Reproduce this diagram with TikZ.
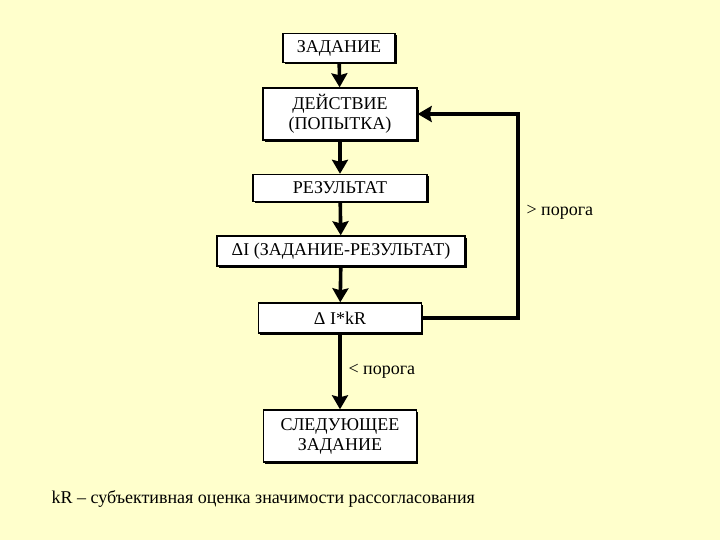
\documentclass[tikz,border=0pt]{standalone}
\usepackage{fontspec}
\setmainfont{Liberation Serif}
\usetikzlibrary{arrows.meta,shadows}
\definecolor{paper}{RGB}{255,255,204}

\begin{document}
\begin{tikzpicture}[x=1pt, y=-1pt,
    stepbox/.style={draw=black, fill=white, line width=1.4pt, align=center,
      font=\fontsize{18}{20}\selectfont, inner sep=2pt,
      drop shadow={shadow xshift=1.6pt, shadow yshift=-1.6pt, opacity=1, fill=black}},
    flow/.style={line width=3.6pt, -{Stealth[width=16pt, length=14pt, inset=2pt]}},
    note/.style={font=\fontsize{18}{20}\selectfont}]
  % Background
  \fill[paper] (0,0) rectangle (720,540);
  \useasboundingbox (0,0) rectangle (720,540);

  % Boxes
  \node[stepbox, minimum width=112pt, minimum height=29pt] (task) at (339,48) {ЗАДАНИЕ};
  \node[stepbox, minimum width=154pt, minimum height=52pt] (act) at (340,114) {ДЕЙСТВИЕ\\(ПОПЫТКА)};
  \node[stepbox, minimum width=174pt, minimum height=27pt] (res) at (340,188) {РЕЗУЛЬТАТ};
  \node[stepbox, minimum width=248pt, minimum height=30pt] (diff) at (341,251) {ΔI (ЗАДАНИЕ-РЕЗУЛЬТАТ)};
  \node[stepbox, minimum width=163pt, minimum height=30pt] (gain) at (340,318) {Δ I*kR};
  \node[stepbox, minimum width=153pt, minimum height=52pt] (next) at (340,436) {СЛЕДУЮЩЕЕ\\ЗАДАНИЕ};

  % Arrows
  \draw[flow] (task) -- (act);
  \draw[flow] (act) -- (res);
  \draw[flow] (res) -- (diff);
  \draw[flow] (diff) -- (gain);
  \draw[flow] (gain) -- (next);
  \coordinate (back) at (518,318);
  \draw[flow] (gain.east) -- (back) |- (act.east);

  % Labels
  \node[note, anchor=west] (over) at (523,212) {> порога};
  \node[note, anchor=west] (under) at (345,371) {< порога};
  \node[note, anchor=west] (legend) at (48,499) {kR – субъективная оценка значимости рассогласования};
\end{tikzpicture}
\end{document}
